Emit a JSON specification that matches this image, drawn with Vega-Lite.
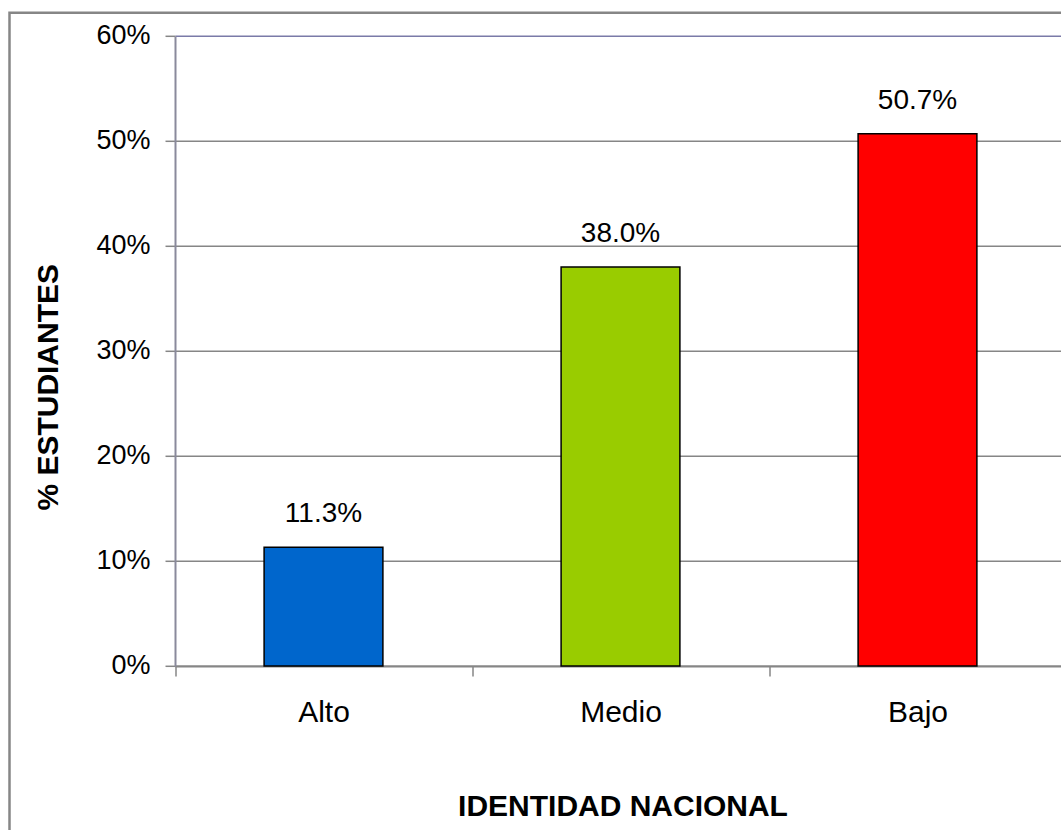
{
  "$schema": "https://vega.github.io/schema/vega-lite/v6.json",
  "width": 1100,
  "height": 850,
  "autosize": {"type": "none"},
  "padding": {"left": 9.5, "top": 12.8, "right": 0, "bottom": 0},
  "background": "white",
  "config": {"view": {"stroke": "#868686", "strokeWidth": 2.5}, "font": "Liberation Sans"},
  "data": {"values": [
    {"nivel": "Alto", "pct": 0.113},
    {"nivel": "Medio", "pct": 0.380},
    {"nivel": "Bajo", "pct": 0.507}
  ]},
  "encoding": {
    "x": {
      "field": "nivel", "type": "nominal", "sort": ["Alto", "Medio", "Bajo"],
      "scale": {"range": [165.5, 1056.5], "paddingInner": 0.6, "paddingOuter": 0.3},
      "axis": {
        "title": "IDENTIDAD NACIONAL", "labelAngle": 0, "offset": -196.8,
        "domainColor": "#868686", "domainWidth": 2,
        "tickOffset": -148.5, "labelOffset": 148.5, "tickColor": "#868686", "tickWidth": 1.5, "tickSize": 10,
        "labelFontSize": 30, "labelColor": "black", "labelPadding": 22,
        "titleFontSize": 30, "titleFontWeight": "bold", "titleColor": "black",
        "titleX": 613, "titleY": 150, "titleBaseline": "alphabetic", "titleAlign": "center",
        "grid": false
      }
    },
    "y": {
      "field": "pct", "type": "quantitative",
      "scale": {"domain": [0, 0.6], "range": [653.2, 23.2], "nice": false, "zero": true},
      "axis": {
        "title": "% ESTUDIANTES", "format": ".0%", "values": [0, 0.1, 0.2, 0.3, 0.4, 0.5, 0.6],
        "offset": -165.5, "grid": true,
        "gridColor": {"condition": {"test": "datum.value > 0.59", "value": "#7a7aa8"}, "value": "#868686"},
        "gridWidth": 1.5,
        "domainColor": "#8a8a9c", "domainWidth": 2,
        "tickColor": "#868686", "tickWidth": 1.5, "tickSize": 10,
        "labelFontSize": 27, "labelColor": "black", "labelPadding": 15,
        "titleFontSize": 30, "titleFontWeight": "bold", "titleColor": "black",
        "titleAngle": 270, "titleX": -118, "titleY": 374, "titleBaseline": "alphabetic", "titleAlign": "center"
      }
    }
  },
  "layer": [
    {
      "mark": {"type": "bar", "stroke": "black", "strokeWidth": 1.5},
      "encoding": {
        "color": {
          "field": "nivel", "type": "nominal",
          "scale": {"domain": ["Alto", "Medio", "Bajo"], "range": ["#0066CC", "#99CC00", "#FF0000"]},
          "legend": null
        }
      }
    },
    {
      "mark": {"type": "text", "baseline": "alphabetic", "dy": -25, "fontSize": 28, "color": "black"},
      "encoding": {"text": {"field": "pct", "type": "quantitative", "format": ".1%"}}
    }
  ]
}
